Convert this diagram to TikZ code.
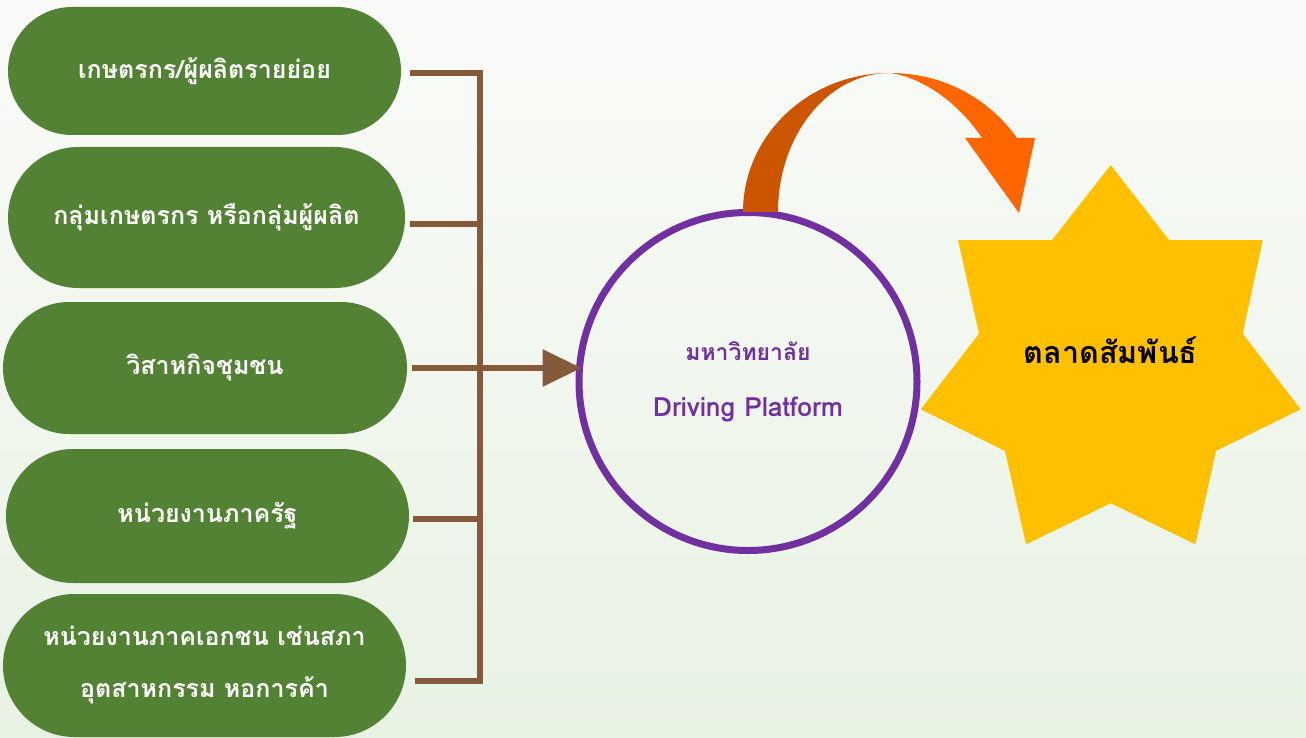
\documentclass[tikz,border=0pt]{standalone}
\usepackage{fontspec}
\newfontfamily\thaifont[Script=Thai]{Loma}
\usetikzlibrary{shapes.misc,arrows.meta}
\definecolor{pillgreen}{HTML}{548235}
\definecolor{barbrown}{HTML}{855A3A}
\definecolor{unipurple}{HTML}{7030A0}
\definecolor{stargold}{HTML}{FFC000}
\definecolor{arcdark}{HTML}{CC5500}
\definecolor{arclight}{HTML}{FF6600}
\definecolor{bgtop}{HTML}{FAFBF9}
\definecolor{bgbottom}{HTML}{E8F2E3}
\begin{document}
\begin{tikzpicture}[x=1pt, y=-1pt,
    pill/.style={rounded rectangle, fill=pillgreen, text=white, align=center, inner sep=0pt,
        font=\thaifont\bfseries\fontsize{25}{52}\selectfont},
    bar/.style={barbrown, line width=6pt}]
\shade[top color=bgtop, bottom color=bgbottom] (0,0) rectangle (1306,738);
\useasboundingbox (0,0) rectangle (1306,738);

% left column
\node[pill, minimum width=393pt, minimum height=128pt] (P1) at (204.5,71) {เกษตรกร/ผู้ผลิตรายย่อย};
\node[pill, minimum width=397pt, minimum height=141pt] (P2) at (206.5,217.5) {กลุ่มเกษตรกร หรือกลุ่มผู้ผลิต};
\node[pill, minimum width=404pt, minimum height=132pt] (P3) at (205,368) {วิสาหกิจชุมชน};
\node[pill, minimum width=403pt, minimum height=134pt] (P4) at (207.5,516) {หน่วยงานภาครัฐ};
\node[pill, minimum width=403pt, minimum height=143pt] (P5) at (204.5,665.5) {หน่วยงานภาคเอกชน เช่นสภา\\อุตสาหกรรม หอการค้า};

% centre and right
\node[circle, draw=unipurple, line width=7pt, minimum size=338pt, inner sep=0pt, text=unipurple, align=center,
    font=\thaifont\bfseries\fontsize{26.5}{56}\selectfont] (UNI) at (748,381.5)
    {{\fontsize{23}{56}\selectfont มหาวิทยาลัย}\\Driving Platform};
\fill[stargold] (1110.7,165) -- (1169,240) -- (1262.7,240) -- (1242.7,333.7) -- (1300.7,409.3)
    -- (1216,451) -- (1195.3,544.3) -- (1110.7,503.3) -- (1026,544.3) -- (1005,451)
    -- (920.7,409.3) -- (979,333.7) -- (958,240) -- (1052,240) -- cycle;
\node[font=\thaifont\bfseries\fontsize{30.5}{36}\selectfont] (MKT) at (1110.7,350) {ตลาดสัมพันธ์};

% bracket
\coordinate (B1) at (480,73);
\coordinate (B2) at (480,224);
\coordinate (B3) at (480,368);
\coordinate (B4) at (480,519);
\coordinate (B5) at (480,681);
\draw[bar] ([xshift=9pt]P1.east |- B1) -- (B1) -- (B5) -- ([xshift=9pt]P5.east |- B5);
\draw[bar] ([xshift=5pt]P2.east |- B2) -- (B2);
\draw[bar] ([xshift=5pt]P3.east |- B3) -- (B3);
\draw[bar] ([xshift=4pt]P4.east |- B4) -- (B4);
\draw[bar, -{Triangle[length=39pt,width=36pt]}, shorten >=-6pt] (B3) -- (B3 -| UNI.west);

% curved arrow
\fill[arcdark] (743,212) .. controls (743,135.2) and (808.8,73) .. (890,73)
    .. controls (828.1,73) and (778,135.2) .. (778,212) -- cycle;
\fill[arclight] (890,73) .. controls (945,73) and (990,100) .. (1017,138) -- (1035,138)
    -- (1019,213) -- (965,138) -- (982,138) .. controls (960,105) and (925,78) .. (890,73) -- cycle;
\end{tikzpicture}
\end{document}
